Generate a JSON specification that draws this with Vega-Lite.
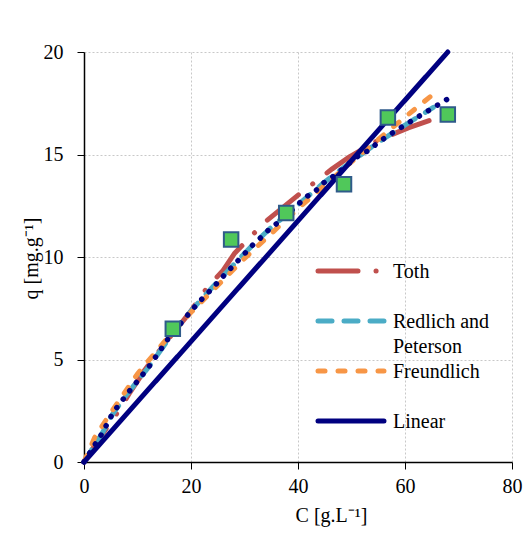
{
  "$schema": "https://vega.github.io/schema/vega-lite/v6.json",
  "width": 428,
  "height": 410,
  "autosize": "none",
  "padding": {"left": 84, "top": 52, "right": 19, "bottom": 72},
  "background": "white",
  "config": {
    "view": {"stroke": null},
    "font": "Liberation Serif",
    "axis": {
      "domainColor": "black",
      "domainWidth": 1.5,
      "tickColor": "black",
      "tickWidth": 1,
      "tickSize": 7,
      "labelFont": "Liberation Serif",
      "labelFontSize": 20,
      "labelColor": "black",
      "labelFlush": false,
      "titleFont": "Liberation Serif",
      "titleFontSize": 20,
      "titleFontWeight": "normal",
      "titleColor": "black",
      "gridColor": "#c8c8c8",
      "gridDash": [2, 2],
      "gridWidth": 1
    }
  },
  "datasets": {
    "curves": [
      {"series": "Toth", "C": 0, "q": 0},
      {"series": "Toth", "C": 3, "q": 1.2},
      {"series": "Toth", "C": 6.5, "q": 2.5},
      {"series": "Toth", "C": 8.6, "q": 3.4},
      {"series": "Toth", "C": 11.4, "q": 4.5},
      {"series": "Toth", "C": 15, "q": 5.75},
      {"series": "Toth", "C": 19.8, "q": 7.3},
      {"series": "Toth", "C": 23, "q": 8.5},
      {"series": "Toth", "C": 26, "q": 9.35},
      {"series": "Toth", "C": 28.2, "q": 10.2},
      {"series": "Toth", "C": 33.8, "q": 11.7},
      {"series": "Toth", "C": 40.4, "q": 13.1},
      {"series": "Toth", "C": 46.4, "q": 14.3},
      {"series": "Toth", "C": 49.7, "q": 14.9},
      {"series": "Toth", "C": 55, "q": 15.7},
      {"series": "Toth", "C": 60.6, "q": 16.3},
      {"series": "Toth", "C": 64.5, "q": 16.65},
      {"series": "Redlich and Peterson", "C": 0, "q": 0},
      {"series": "Redlich and Peterson", "C": 3.4, "q": 1.4},
      {"series": "Redlich and Peterson", "C": 5.4, "q": 2.35},
      {"series": "Redlich and Peterson", "C": 8, "q": 3.3},
      {"series": "Redlich and Peterson", "C": 12, "q": 4.6},
      {"series": "Redlich and Peterson", "C": 15.7, "q": 5.95},
      {"series": "Redlich and Peterson", "C": 18.5, "q": 6.9},
      {"series": "Redlich and Peterson", "C": 21.3, "q": 7.75},
      {"series": "Redlich and Peterson", "C": 24.1, "q": 8.55},
      {"series": "Redlich and Peterson", "C": 28.6, "q": 9.8},
      {"series": "Redlich and Peterson", "C": 31.6, "q": 10.6},
      {"series": "Redlich and Peterson", "C": 34.8, "q": 11.4},
      {"series": "Redlich and Peterson", "C": 39.8, "q": 12.5},
      {"series": "Redlich and Peterson", "C": 44.7, "q": 13.6},
      {"series": "Redlich and Peterson", "C": 49.7, "q": 14.6},
      {"series": "Redlich and Peterson", "C": 55, "q": 15.6},
      {"series": "Redlich and Peterson", "C": 60.4, "q": 16.5},
      {"series": "Redlich and Peterson", "C": 65.3, "q": 17.3},
      {"series": "Freundlich", "C": 0, "q": 0},
      {"series": "Freundlich", "C": 2, "q": 1.2},
      {"series": "Freundlich", "C": 5, "q": 2.4},
      {"series": "Freundlich", "C": 10, "q": 4.3},
      {"series": "Freundlich", "C": 15, "q": 5.86},
      {"series": "Freundlich", "C": 20, "q": 7.3},
      {"series": "Freundlich", "C": 30, "q": 9.93},
      {"series": "Freundlich", "C": 40, "q": 12.36},
      {"series": "Freundlich", "C": 50, "q": 14.64},
      {"series": "Freundlich", "C": 60, "q": 16.82},
      {"series": "Freundlich", "C": 66.5, "q": 18.2},
      {"series": "Linear", "C": 0, "q": 0},
      {"series": "Linear", "C": 68, "q": 20}
    ],
    "dotted": [
      {"C": 0, "q": 0}, {"C": 3.4, "q": 1.4}, {"C": 5.4, "q": 2.4}, {"C": 8, "q": 3.3},
      {"C": 12, "q": 4.6}, {"C": 15.7, "q": 6.0}, {"C": 18.5, "q": 6.9}, {"C": 21.3, "q": 7.75},
      {"C": 24.1, "q": 8.5}, {"C": 25.8, "q": 9.0}, {"C": 28.6, "q": 9.77}, {"C": 31.6, "q": 10.6},
      {"C": 33.3, "q": 11.0}, {"C": 34.8, "q": 11.4}, {"C": 36.4, "q": 11.7}, {"C": 39.8, "q": 12.5},
      {"C": 41.3, "q": 12.9}, {"C": 43.2, "q": 13.2}, {"C": 44.7, "q": 13.6}, {"C": 46.4, "q": 13.9},
      {"C": 47.9, "q": 14.2}, {"C": 49.7, "q": 14.6}, {"C": 51.6, "q": 15.0}, {"C": 53.3, "q": 15.2},
      {"C": 55, "q": 15.6}, {"C": 56.8, "q": 15.9}, {"C": 58.5, "q": 16.2}, {"C": 60.4, "q": 16.5},
      {"C": 62.2, "q": 16.8}, {"C": 64.1, "q": 17.1}, {"C": 66, "q": 17.4}, {"C": 67.9, "q": 17.7}
    ],
    "points": [
      {"C": 16.6, "q": 6.5},
      {"C": 27.5, "q": 10.85},
      {"C": 37.8, "q": 12.15},
      {"C": 48.6, "q": 13.55},
      {"C": 56.8, "q": 16.8},
      {"C": 68.0, "q": 16.95}
    ]
  },
  "layer": [
    {
      "data": {"name": "curves"},
      "mark": {"type": "line", "strokeCap": "round", "strokeJoin": "round"},
      "encoding": {
        "x": {
          "field": "C", "type": "quantitative",
          "scale": {"domain": [0, 80], "nice": false},
          "axis": {"values": [0, 20, 40, 60, 80], "title": "C [g.L⁻¹]", "labelPadding": 7, "titleX": 247, "titleY": 59, "titleBaseline": "alphabetic", "titleAnchor": "middle", "titleAlign": "center"}
        },
        "y": {
          "field": "q", "type": "quantitative",
          "scale": {"domain": [0, 20], "nice": false},
          "axis": {"values": [0, 5, 10, 15, 20], "title": "q [mg.g⁻¹]", "labelPadding": 14, "titleX": -47, "titleY": 206, "titleBaseline": "alphabetic", "titleAngle": 270, "titleAlign": "center"}
        },
        "strokeWidth": {
          "field": "series", "type": "nominal",
          "scale": {"domain": ["Toth", "Redlich and Peterson", "Freundlich", "Linear"], "range": [5, 5, 5, 6]},
          "legend": null
        },
        "color": {
          "field": "series", "type": "nominal",
          "scale": {"domain": ["Toth", "Redlich and Peterson", "Freundlich", "Linear"], "range": ["#c0504d", "#4bacc6", "#f79646", "#000080"]},
          "legend": {
            "orient": "none", "legendX": 256, "legendY": 208, "title": null, "padding": 0, "rowPadding": 3,
            "symbolType": "M-4,0H4", "symbolSize": 272, "symbolStrokeWidth": 5,
            "labelFont": "Liberation Serif", "labelFontSize": 20, "labelColor": "black", "labelBaseline": "top", "labelOffset": 31, "labelLimit": 300,
            "labelExpr": "datum.label == 'Redlich and Peterson' ? ['Redlich and', 'Peterson'] : [datum.label, '']",
            "encode": {"labels": {"update": {"dy": {"value": -9}, "lineHeight": {"value": 25}}}, "symbols": {"update": {"strokeCap": {"value": "round"}}}}
          }
        },
        "strokeDash": {
          "field": "series", "type": "nominal",
          "scale": {"domain": ["Toth", "Redlich and Peterson", "Freundlich", "Linear"], "range": [[40, 18, 0.1, 18], [14, 12], [7, 13], [1, 0]]},
          "legend": {
            "orient": "none", "legendX": 256, "legendY": 208, "title": null, "padding": 0, "rowPadding": 3,
            "symbolType": "M-4,0H4", "symbolSize": 272, "symbolStrokeWidth": 5,
            "labelFont": "Liberation Serif", "labelFontSize": 20, "labelColor": "black", "labelBaseline": "top", "labelOffset": 31, "labelLimit": 300,
            "labelExpr": "datum.label == 'Redlich and Peterson' ? ['Redlich and', 'Peterson'] : [datum.label, '']",
            "encode": {"labels": {"update": {"dy": {"value": -9}, "lineHeight": {"value": 25}}}, "symbols": {"update": {"strokeCap": {"value": "round"}}}}
          }
        }
      }
    },
    {
      "data": {"name": "dotted"},
      "mark": {"type": "line", "color": "#000080", "strokeWidth": 5.5, "strokeCap": "round", "strokeDash": [0.1, 10.5]},
      "encoding": {
        "x": {"field": "C", "type": "quantitative"},
        "y": {"field": "q", "type": "quantitative"}
      }
    },
    {
      "data": {"name": "points"},
      "mark": {"type": "point", "shape": "square", "filled": true, "size": 210, "color": "#50c85a", "stroke": "#2f5b8a", "strokeWidth": 2, "opacity": 1},
      "encoding": {
        "x": {"field": "C", "type": "quantitative"},
        "y": {"field": "q", "type": "quantitative"}
      }
    }
  ]
}
